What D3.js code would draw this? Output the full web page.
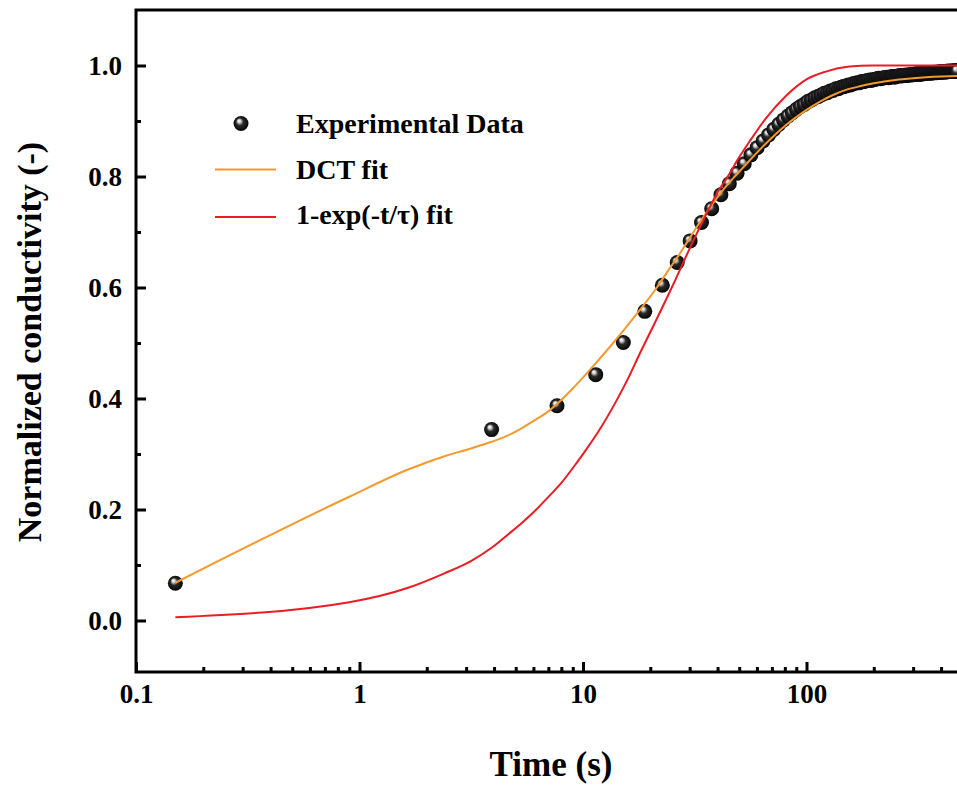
<!DOCTYPE html>
<html><head><meta charset="utf-8">
<script src="https://cdn.jsdelivr.net/npm/d3@7"></script>
<style>
html,body{margin:0;padding:0;background:#fff;}
svg{display:block;font-family:"Liberation Serif","Times New Roman",serif;font-weight:bold;}
</style></head><body>
<svg id="chart" width="957" height="789"></svg>
<script>
// ---------- data ----------
const expTime = [0.15,3.9,7.65,11.4,15.15,18.9,22.65,26.4,30.15,33.9,37.65,41.4,45.15,48.9,52.65,56.4,60.15,63.9,67.65,71.4,
75.15,78.9,82.65,86.4,90.15,93.9,97.65,101.4,105.15,108.9,112.65,116.4,120.15,123.9,127.65,131.4,135.15,138.9,142.65,146.4,
150.15,153.9,157.65,161.4,165.15,168.9,172.65,176.4,180.15,183.9,187.65,191.4,195.15,198.9,202.65,206.4,210.15,213.9,217.65,221.4,
225.15,228.9,232.65,236.4,240.15,243.9,247.65,251.4,255.15,258.9,262.65,266.4,270.15,273.9,277.65,281.4,285.15,288.9,292.65,296.4,
300.15,303.9,307.65,311.4,315.15,318.9,322.65,326.4,330.15,333.9,337.65,341.4,345.15,348.9,352.65,356.4,360.15,363.9,367.65,371.4,
375.15,378.9,382.65,386.4,390.15,393.9,397.65,401.4,405.15,408.9,412.65,416.4,420.15,423.9,427.65,431.4,435.15,438.9,442.65,446.4,
450.15,453.9,457.65,461.4,465.15,468.9,472.65];
const expValue = [0.067,0.344,0.387,0.443,0.501,0.557,0.604,0.645,0.684,0.717,0.742,0.767,0.787,0.806,0.823,0.839,0.852,0.864,0.875,0.885,
0.894,0.902,0.909,0.915,0.921,0.926,0.930,0.935,0.938,0.942,0.944,0.947,0.950,0.951,0.954,0.955,0.958,0.958,0.961,0.962,
0.963,0.965,0.965,0.967,0.968,0.969,0.969,0.971,0.971,0.972,0.973,0.974,0.973,0.975,0.975,0.976,0.977,0.976,0.977,0.978,
0.978,0.979,0.978,0.979,0.980,0.980,0.979,0.980,0.981,0.981,0.982,0.981,0.982,0.982,0.983,0.982,0.983,0.983,0.984,0.983,
0.984,0.984,0.985,0.984,0.985,0.985,0.984,0.985,0.986,0.985,0.986,0.986,0.987,0.986,0.986,0.987,0.987,0.986,0.987,0.988,
0.987,0.988,0.987,0.988,0.988,0.989,0.988,0.988,0.989,0.988,0.989,0.989,0.988,0.989,0.990,0.989,0.989,0.990,0.989,0.990,
0.990,0.989,0.990,0.990,0.991,0.990,0.990];

const dctTime  = [0.15,0.9,1.65,2.4,3.15,3.9,4.65,5.4,6.15,6.9,7.65,9,10.7,12.5,15,18,21.4,24,27,30,33.4,37,42,47,52,60,70,80,90,100,115,130,150,175,200,250,300,400,470,1000];
const dctValue = [0.068,0.223,0.272,0.296,0.310,0.322,0.334,0.348,0.362,0.375,0.390,0.418,0.451,0.482,0.520,0.560,0.600,0.630,0.660,0.689,0.718,0.744,0.774,0.797,0.816,0.843,0.870,0.891,0.907,0.920,0.935,0.946,0.956,0.963,0.968,0.974,0.977,0.980,0.981,0.983];

const expfTime  = [0.15,0.9,1.65,2.4,3.15,3.9,4.65,5.4,6.15,6.9,8,9.4,10.5,11.7,14.2,16,18,21,25.3,30,34.4,40.9,44,50,55.6,66.2,81.3,100,122,156,196,300,1000];
const expfValue = [0.006,0.033,0.059,0.085,0.107,0.131,0.156,0.178,0.199,0.220,0.248,0.285,0.312,0.340,0.398,0.438,0.482,0.537,0.605,0.670,0.720,0.778,0.797,0.835,0.863,0.906,0.946,0.975,0.989,0.998,1.000,1.000,1.000];

const xMajorTicks = [0.1,1,10,100];
const yMajorTicks = [0.0,0.2,0.4,0.6,0.8,1.0];
const yMinorTicks = [0.1,0.3,0.5,0.7,0.9];
const legendLabels = ["Experimental Data","DCT fit","1-exp(-t/\u03C4) fit"];
const xTitle = "Time (s)";
const yTitle = "Normalized conductivity (-)";

// ---------- layout ----------
const svg = d3.select("#chart");
const pLeft = 136, pTop = 10, pBottom = 672;
const decade = 223.5;
const x = d3.scaleLog().domain([0.1, 1000]).range([pLeft, pLeft + 4*decade]);
const y = d3.scaleLinear().domain([0, 1]).range([620.5, 65.5]);

const orange = "#f39a2f", red = "#ec1c24";

// gradient for spheres
const defs = svg.append("defs");
const g = defs.append("radialGradient").attr("id","ball").attr("cx","50%").attr("cy","50%").attr("r","55%").attr("fx","35%").attr("fy","30%");
g.append("stop").attr("offset","0%").attr("stop-color","#ffffff");
g.append("stop").attr("offset","18%").attr("stop-color","#d8d8d8");
g.append("stop").attr("offset","45%").attr("stop-color","#2a2a2a");
g.append("stop").attr("offset","100%").attr("stop-color","#000000");
defs.append("clipPath").attr("id","plotclip").append("rect")
  .attr("x", pLeft).attr("y", pTop).attr("width", 4*decade).attr("height", pBottom-pTop);

// data markers
const expData = expTime.map((t,i)=>({t, v: expValue[i]}));
svg.append("g").attr("clip-path","url(#plotclip)").selectAll("circle").data(expData).join("circle")
  .attr("cx", d=>x(d.t)).attr("cy", d=>y(d.v)).attr("r", 7.5).attr("fill","url(#ball)");

// lines
const line = d3.line().x(d=>x(d.t)).y(d=>y(d.v)).curve(d3.curveMonotoneX);
const dctData = dctTime.map((t,i)=>({t, v: dctValue[i]}));
const expfData = expfTime.map((t,i)=>({t, v: expfValue[i]}));
const lg = svg.append("g").attr("clip-path","url(#plotclip)");
lg.append("path").datum(dctData).attr("d", line).attr("fill","none").attr("stroke",orange).attr("stroke-width",2);
lg.append("path").datum(expfData).attr("d", line).attr("fill","none").attr("stroke",red).attr("stroke-width",2);

// frame
svg.append("rect").attr("x", pLeft).attr("y", pTop).attr("width", 4*decade).attr("height", pBottom-pTop)
  .attr("fill","none").attr("stroke","#000").attr("stroke-width",3);

// axes
const xMinor = [];
[0.1,1,10,100].forEach(d=>{ for(let k=2;k<=9;k++) xMinor.push(d*k); });
const xAxis = d3.axisBottom(x).tickValues(xMajorTicks).tickSize(-10).tickPadding(12).tickFormat(d=>String(d));
const gx = svg.append("g").attr("transform",`translate(0,${pBottom})`).call(xAxis);
svg.append("g").attr("transform",`translate(0,${pBottom})`)
  .call(d3.axisBottom(x).tickValues(xMinor).tickSize(-5).tickFormat(""));
const yAxis = d3.axisLeft(y).tickValues(yMajorTicks).tickSize(-10).tickPadding(14).tickFormat(d3.format(".1f"));
const gy = svg.append("g").attr("transform",`translate(${pLeft},0)`).call(yAxis);
svg.append("g").attr("transform",`translate(${pLeft},0)`)
  .call(d3.axisLeft(y).tickValues(yMinorTicks).tickSize(-5).tickFormat(""));
svg.selectAll(".domain").remove();
svg.selectAll(".tick line").attr("stroke","#000").attr("stroke-width",3);
svg.selectAll(".tick text").attr("fill","#000").style("font-family","'Liberation Serif','Times New Roman',serif")
  .style("font-weight","bold").style("font-size","27px");
gx.selectAll(".tick text").attr("dy","0.71em");

// titles
svg.append("text").attr("x", 551).attr("y", 776).attr("text-anchor","middle")
  .style("font-size","35px").text(xTitle);
svg.append("text").attr("transform","translate(41,342) rotate(-90)").attr("text-anchor","middle")
  .style("font-size","34px").text(yTitle);

// legend
const leg = svg.append("g");
leg.append("circle").attr("cx",241).attr("cy",123.5).attr("r",7.5).attr("fill","url(#ball)");
leg.append("line").attr("x1",215).attr("x2",276).attr("y1",169.5).attr("y2",169.5).attr("stroke",orange).attr("stroke-width",2);
leg.append("line").attr("x1",215).attr("x2",276).attr("y1",217).attr("y2",217).attr("stroke",red).attr("stroke-width",2);
const ly = [133, 179, 224];
legendLabels.forEach((s,i)=>{
  leg.append("text").attr("x",296).attr("y",ly[i]).style("font-size","28px").text(s);
});
</script>
</body></html>
